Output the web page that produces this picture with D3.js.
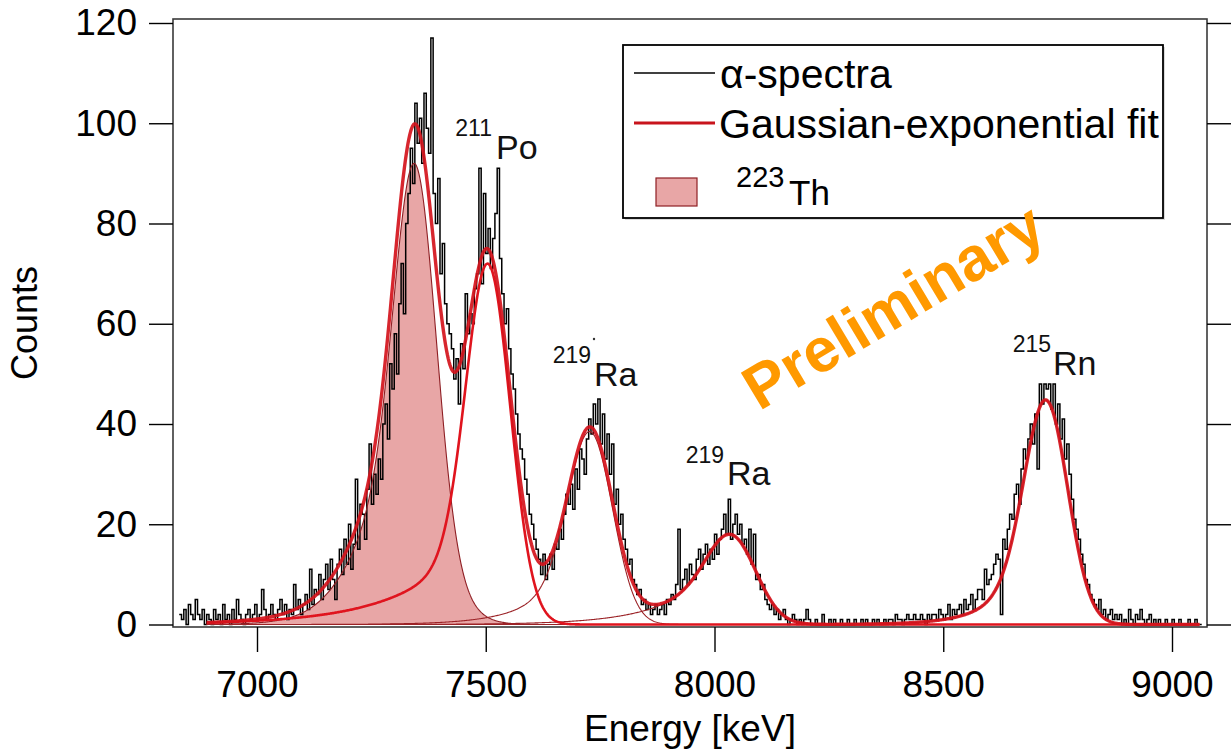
<!DOCTYPE html>
<html>
<head>
<meta charset="utf-8">
<script src="https://cdn.jsdelivr.net/npm/d3@7"></script>
<style>
  body { margin: 0; background: #fff; }
  svg { display: block; font-family: "Liberation Sans", Arial, Helvetica, sans-serif; }
</style>
</head>
<body>
<svg id="chart" width="1231" height="753"></svg>
<script>
// ---- measured alpha spectrum: counts per 5 keV bin, first bin at 6830 keV ----
const binStart = 6830;
const binWidth = 5;
const counts = [
  2,1,3,0,4,2,1,5,2,1,          // 6830
  3,0,2,1,0,3,1,2,0,4,          // 6880
  1,2,0,3,1,5,2,1,0,2,          // 6930
  3,1,2,4,1,2,7,3,1,2,          // 6980
  4,2,1,3,5,2,4,1,3,2,          // 7030
  8,3,5,2,4,6,3,11,4,7,         // 7080
  6,10,5,9,12,7,13,9,5,12,      // 7130
  15,10,17,12,20,11,16,29,15,24,// 7180
  22,17,27,36,24,30,26,33,29,40,// 7230
  44,37,52,47,58,50,64,72,62,80,// 7280
  86,95,88,104,96,101,92,106,99,94, // 7330
  117,86,80,89,70,76,64,60,58,55,   // 7380
  49,53,44,56,51,66,58,62,60,67,    // 7430
  70,91,68,86,74,79,71,77,82,91,    // 7480
  73,66,60,63,55,50,47,42,38,35,    // 7530
  33,29,26,22,20,17,15,13,10,14,    // 7580
  9,12,14,11,16,15,19,17,22,26,     // 7630
  24,28,23,31,27,35,33,30,37,41,    // 7680
  38,44,40,45,36,42,33,38,30,36,    // 7730
  24,27,20,22,17,15,12,13,9,8,      // 7780
  6,7,4,5,3,4,2,3,4,2,              // 7830
  3,4,2,5,4,6,5,8,19,7,             // 7880
  9,11,8,12,10,9,13,15,11,14,       // 7930
  16,12,15,13,18,14,17,19,22,18,    // 7980
  25,17,20,22,18,20,16,17,14,19,    // 8030
  12,18,9,10,7,8,5,4,3,4,           // 8080
  2,3,1,2,3,1,0,1,2,1,              // 8130
  0,1,0,1,3,1,0,0,1,0,              // 8180
  0,2,0,0,1,0,1,0,0,1,              // 8230
  0,0,1,0,0,1,0,0,1,0,              // 8280
  1,0,0,1,0,1,0,0,1,0,              // 8330
  1,1,0,2,1,1,0,1,2,1,              // 8380
  1,2,1,1,2,1,0,2,1,2,              // 8430
  2,1,3,2,1,2,4,1,3,2,              // 8480
  3,4,2,5,3,4,6,3,5,7,              // 8530
  7,5,11,8,9,10,12,14,13,2,         // 8580
  17,15,19,22,21,26,28,24,31,35,    // 8630
  33,37,40,36,42,31,48,44,48,47,    // 8680
  48,43,48,40,44,37,41,33,36,30,    // 8730
  25,21,19,17,14,12,9,8,6,5,        // 8780
  4,3,5,2,3,1,2,3,1,2,              // 8830
  1,2,0,1,0,3,1,0,2,1,              // 8880
  3,1,0,1,2,0,1,0,1,0,              // 8930
  0,1,0,0,1,0,0,1,0,0,              // 8980
  0,1,0,0,1,0,0                     // 9030
];

// ---- Gaussian-exponential fit parameters (one entry per peak) ----
const peakNames      = ["223Th", "211Po", "219Ra", "219Ra", "215Rn"];
const peakCentroid   = [7347, 7508, 7732, 8045, 8728];  // keV
const peakHeight     = [92, 72, 38.5, 18, 44.8];        // counts at maximum
const peakSigma      = [45, 48, 48, 52, 47];            // Gaussian core width, keV
const peakTailSigma  = [75, 48, 48, 52, 47];            // width of the tail term, keV
const peakTau        = [50, 150, 85, 110, 70];          // low-energy tail slope, keV
const peakTailFrac   = [0.62, 0.25, 0.35, 0.55, 0.35];
const fitRange       = [6890, 9060];

// ---- axes ----
const xTicks = [7000, 7500, 8000, 8500, 9000];
const yTicks = [0, 20, 40, 60, 80, 100, 120];

// ---- text ----
const legendLabels = ["\u03b1-spectra", "Gaussian-exponential fit", "Th"];
const legendMass   = "223";
const isoMass      = ["211", "219", "219", "215"];
const isoElement   = ["Po", "Ra", "Ra", "Rn"];
const watermark    = "Preliminary";

// ------------------------------------------------------------------
const svg = d3.select("#chart");
const frame = { left: 173, right: 1207, top: 19, bottom: 627 };

const x = d3.scaleLinear().domain([7000, 9000]).range([257, 1172]);
const y = d3.scaleLinear().domain([0, 120]).range([624.5, 23]);

// complementary error function (Numerical Recipes erfcc)
function erfc(v) {
  const z = Math.abs(v);
  const t = 1 / (1 + 0.5 * z);
  const r = t * Math.exp(-z * z - 1.26551223 + t * (1.00002368 + t * (0.37409196 + t * (0.09678418 +
            t * (-0.18628806 + t * (0.27886807 + t * (-1.13520398 + t * (1.48851587 +
            t * (-0.82215223 + t * 0.17087277)))))))));
  return v >= 0 ? r : 2 - r;
}

// Gaussian core plus exponentially-modified Gaussian low-energy tail
function lineShape(d, s, st, tau, eta) {
  const g = Math.exp(-d * d / (2 * s * s));
  const tail = Math.exp(d / tau + st * st / (2 * tau * tau)) * 0.5 * erfc((d / st + st / tau) / Math.SQRT2);
  return (1 - eta) * g + eta * tail;
}

const components = peakNames.map((name, i) => {
  const s = peakSigma[i], st = peakTailSigma[i], tau = peakTau[i], eta = peakTailFrac[i];
  let m = 0;
  for (let d = -6 * st; d <= 3 * s; d += 0.25) m = Math.max(m, lineShape(d, s, st, tau, eta));
  return e => peakHeight[i] * lineShape(e - peakCentroid[i], s, st, tau, eta) / m;
});

const fitE = d3.range(fitRange[0], fitRange[1] + 0.001, 2);
const compData = components.map(f => fitE.map(e => [e, f(e)]));
const totalData = fitE.map((e, k) => [e, d3.sum(compData, c => c[k][1])]);

// clip to plot frame
svg.append("defs").append("clipPath").attr("id", "plotClip")
  .append("rect")
  .attr("x", frame.left).attr("y", frame.top)
  .attr("width", frame.right - frame.left).attr("height", frame.bottom - frame.top);

const plot = svg.append("g").attr("clip-path", "url(#plotClip)");

const line = d3.line().x(d => x(d[0])).y(d => y(d[1]));

// 223Th component, filled
plot.append("path")
  .datum(compData[0])
  .attr("d", d3.area().x(d => x(d[0])).y0(y(0)).y1(d => y(d[1])))
  .attr("fill", "#e8a6a6")
  .attr("stroke", "none");

// histogram
const histPts = counts.map((c, i) => [binStart + i * binWidth, c]);
histPts.push([binStart + counts.length * binWidth, counts[counts.length - 1]]);
plot.append("path")
  .datum(histPts)
  .attr("d", d3.line().curve(d3.curveStepAfter).x(d => x(d[0])).y(d => y(d[1])))
  .attr("fill", "none")
  .attr("stroke", "#000")
  .attr("stroke-width", 1.5);

// outline of the 223Th component
plot.append("path")
  .datum(compData[0])
  .attr("d", line)
  .attr("fill", "none")
  .attr("stroke", "#8e1f24")
  .attr("stroke-width", 1.1);

// other single-peak components
compData.slice(2).forEach(cd => {
  plot.append("path")
    .datum(cd)
    .attr("d", line)
    .attr("fill", "none")
    .attr("stroke", "#9b2226")
    .attr("stroke-width", 1.1);
});

// 211Po component
plot.append("path")
  .datum(compData[1])
  .attr("d", line)
  .attr("fill", "none")
  .attr("stroke", "#e0141e")
  .attr("stroke-width", 2.6);

// total fit
plot.append("path")
  .datum(totalData)
  .attr("d", line)
  .attr("fill", "none")
  .attr("stroke", "#d4141c")
  .attr("stroke-width", 3.4)
  .attr("stroke-linejoin", "round")
  .attr("opacity", 0.92);

// ---- frame ----
svg.append("rect")
  .attr("x", frame.left).attr("y", frame.top)
  .attr("width", frame.right - frame.left).attr("height", frame.bottom - frame.top)
  .attr("fill", "none").attr("stroke", "#3a3a3a").attr("stroke-width", 1.6);

// ---- axes ----
const axisFont = 37;

const gy = svg.append("g").attr("transform", `translate(${frame.left},0)`)
  .call(d3.axisLeft(y).tickValues(yTicks).tickSize(24).tickPadding(12));
gy.select(".domain").remove();
gy.selectAll(".tick line").attr("stroke", "#000").attr("stroke-width", 1.4);
gy.selectAll(".tick text").attr("font-size", axisFont).attr("fill", "#000")
  .attr("font-family", "Liberation Sans, Arial, sans-serif");

const gr = svg.append("g").attr("transform", `translate(${frame.right},0)`)
  .call(d3.axisRight(y).tickValues(yTicks).tickSize(24).tickFormat(() => ""));
gr.select(".domain").remove();
gr.selectAll(".tick line").attr("stroke", "#000").attr("stroke-width", 1.4);

const gx = svg.append("g").attr("transform", `translate(0,${frame.bottom})`)
  .call(d3.axisBottom(x).tickValues(xTicks).tickSize(25).tickPadding(18.5).tickFormat(d3.format("d")));
gx.select(".domain").remove();
gx.selectAll(".tick line").attr("stroke", "#000").attr("stroke-width", 1.4);
gx.selectAll(".tick text").attr("font-size", axisFont).attr("fill", "#000")
  .attr("font-family", "Liberation Sans, Arial, sans-serif");

svg.append("text")
  .attr("x", 690).attr("y", 741)
  .attr("text-anchor", "middle")
  .attr("font-size", 37)
  .text("Energy [keV]");

svg.append("text")
  .attr("transform", "translate(37,323) rotate(-90)")
  .attr("text-anchor", "middle")
  .attr("font-size", 36)
  .text("Counts");

// ---- peak labels ----
const isoLayout = [
  { mx: 492, my: 136, ex: 496, ey: 159 },
  { mx: 591, my: 363, ex: 594, ey: 386 },
  { mx: 724, my: 463, ex: 727, ey: 485 },
  { mx: 1051, my: 352, ex: 1053, ey: 375 }
];
isoLayout.forEach((p, i) => {
  svg.append("text")
    .attr("x", p.mx).attr("y", p.my)
    .attr("text-anchor", "end")
    .attr("font-size", 23)
    .attr("fill", "#111")
    .text(isoMass[i]);
  svg.append("text")
    .attr("x", p.ex).attr("y", p.ey)
    .attr("font-size", 34)
    .attr("fill", "#111")
    .text(isoElement[i]);
});
svg.append("circle").attr("cx", 594).attr("cy", 339).attr("r", 1.2).attr("fill", "#333");

// ---- legend ----
const lg = svg.append("g");
lg.append("rect")
  .attr("x", 625).attr("y", 47).attr("width", 540).attr("height", 173)
  .attr("fill", "#999").attr("opacity", 0.35);
lg.append("rect")
  .attr("x", 623).attr("y", 45).attr("width", 540).attr("height", 173)
  .attr("fill", "#fff").attr("stroke", "#000").attr("stroke-width", 1.8);
lg.append("line").attr("x1", 634).attr("x2", 715).attr("y1", 73).attr("y2", 73)
  .attr("stroke", "#000").attr("stroke-width", 1.3);
lg.append("line").attr("x1", 634).attr("x2", 715).attr("y1", 123).attr("y2", 123)
  .attr("stroke", "#c8141c").attr("stroke-width", 3.2);
lg.append("rect").attr("x", 656).attr("y", 178).attr("width", 41).attr("height", 28)
  .attr("fill", "#e8a6a6").attr("stroke", "#8e1f24").attr("stroke-width", 1.2);
lg.append("text").attr("x", 720).attr("y", 88).attr("font-size", 41).text(legendLabels[0]);
lg.append("text").attr("x", 719).attr("y", 138).attr("font-size", 41).text(legendLabels[1]);
lg.append("text").attr("x", 736).attr("y", 187).attr("font-size", 29).text(legendMass);
lg.append("text").attr("x", 789).attr("y", 205).attr("font-size", 35).text(legendLabels[2]);

// ---- watermark ----
svg.append("text")
  .attr("transform", "translate(893,306) rotate(-31)")
  .attr("text-anchor", "middle")
  .attr("dominant-baseline", "central")
  .attr("font-size", 62)
  .attr("font-weight", "bold")
  .attr("fill", "#ff9900")
  .text(watermark);
</script>
</body>
</html>
